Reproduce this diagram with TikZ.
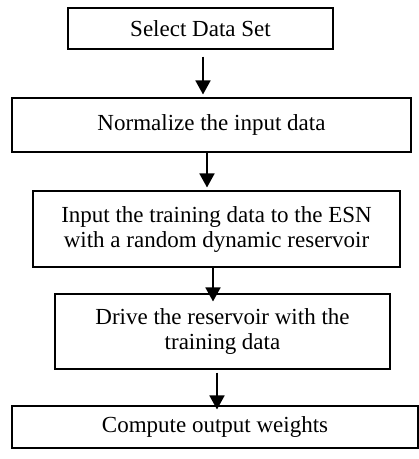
\documentclass[tikz,border=0pt]{standalone}
\usepackage{fontspec}
\setmainfont{Liberation Serif}
\usetikzlibrary{arrows.meta}
\begin{document}
\begin{tikzpicture}[x=1pt,y=-1pt,
  box/.style={draw=black,line width=1.1pt,inner sep=0pt,align=center,font=\fontsize{23}{25}\selectfont},
  arr/.style={line width=1.8pt,-{Triangle[length=14pt,width=15pt]}}]
\useasboundingbox (0,0) rectangle (419,459);
\node[box,minimum width=265pt,minimum height=41pt] (b1) at (200.5,28.5) {Select Data Set};
\node[box,minimum width=399pt,minimum height=54pt] (b2) at (211.5,125) {Normalize the input data};
\node[box,minimum width=367pt,minimum height=76pt] (b3) at (216.5,229) {Input the training data to the ESN\\with a random dynamic reservoir};
\node[box,minimum width=335pt,minimum height=75pt] (b4) at (222.5,331.5) {Drive the reservoir with the\\training data};
\node[box,minimum width=406pt,minimum height=42pt] (b5) at (215,427) {Compute output weights};
\coordinate (x1) at (203,0);
\coordinate (x2) at (207,0);
\coordinate (x3) at (213,0);
\coordinate (x4) at (217,0);
\draw[arr,shorten <=7pt,shorten >=3pt] (b1.south -| x1) -- (b2.north -| x1);
\draw[arr,shorten >=3pt] (b2.south -| x2) -- (b3.north -| x2);
\draw[arr,shorten >=-8pt] (b3.south -| x3) -- (b4.north -| x3);
\draw[arr,shorten <=3pt,shorten >=-4pt] (b4.south -| x4) -- (b5.north -| x4);
\end{tikzpicture}
\end{document}
